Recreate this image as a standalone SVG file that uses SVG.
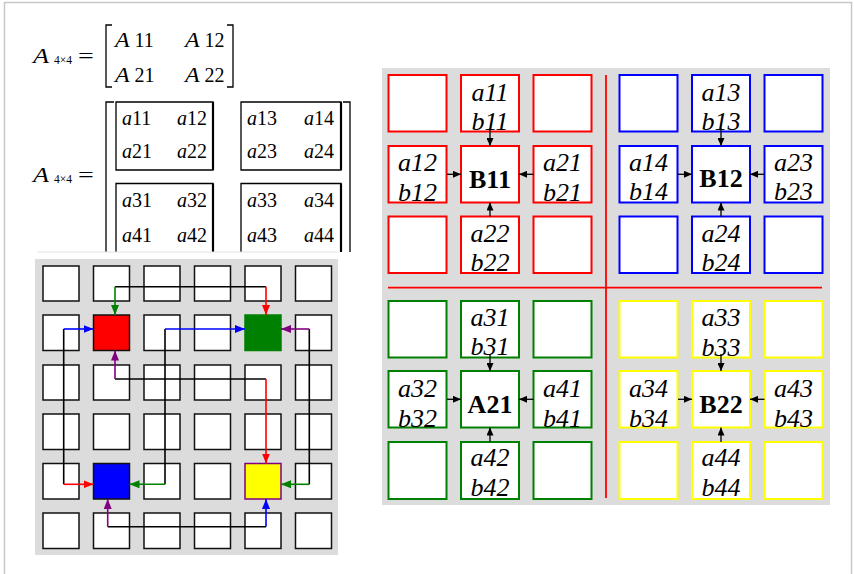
<svg xmlns="http://www.w3.org/2000/svg" width="854" height="574" viewBox="0 0 854 574">
<style>
.m{font-family:"Liberation Serif","Times New Roman",serif;font-size:20px;fill:#000}
.it{font-style:italic}
.sub{font-size:11.5px}
.br{fill:none;stroke:#000;stroke-width:1.3}
.sq{fill:#fff;stroke:#111;stroke-width:1.5}
.q{font-family:"Liberation Serif","Times New Roman",serif;font-size:26px;font-style:italic;text-anchor:middle;fill:#000}
.b{font-family:"Liberation Serif","Times New Roman",serif;font-size:26px;font-weight:bold;text-anchor:middle;fill:#000}
.r{fill:#fff;stroke:#f00;stroke-width:2}
.bl{fill:#fff;stroke:#00f;stroke-width:2}
.g{fill:#fff;stroke:#008000;stroke-width:2}
.y{fill:#fff;stroke:#ff0;stroke-width:2}
.c{fill:none;stroke-width:1.6}
</style>
<defs>
<marker id="mg" markerUnits="userSpaceOnUse" markerWidth="10" markerHeight="8" refX="10" refY="4" orient="auto"><path d="M0,0L10,4L0,8z" fill="#008000"/></marker>
<marker id="mr" markerUnits="userSpaceOnUse" markerWidth="10" markerHeight="8" refX="10" refY="4" orient="auto"><path d="M0,0L10,4L0,8z" fill="#f00"/></marker>
<marker id="mb" markerUnits="userSpaceOnUse" markerWidth="10" markerHeight="8" refX="10" refY="4" orient="auto"><path d="M0,0L10,4L0,8z" fill="#00f"/></marker>
<marker id="mp" markerUnits="userSpaceOnUse" markerWidth="10" markerHeight="8" refX="10" refY="4" orient="auto"><path d="M0,0L10,4L0,8z" fill="#800080"/></marker>
<marker id="mk" markerUnits="userSpaceOnUse" markerWidth="8" markerHeight="7" refX="8" refY="3.5" orient="auto"><path d="M0,0L8,3.5L0,7z" fill="#000"/></marker>
</defs>
<rect x="4.5" y="2.5" width="847" height="590" fill="#fff" stroke="#c8c8c8" stroke-width="1.5"/>

<!-- Matrix 1 -->
<g id="matrix1">
<text class="m it" transform="translate(33,63) scale(1.25,1)" style="font-size:21px">A</text>
<text class="m sub" x="54" y="64">4×4</text>
<text class="m" transform="translate(78,63) scale(1.4,1)">=</text>
<path class="br" d="M112,25H106V87H112M227,25H233V87H227"/>
<text class="m it" transform="translate(115,47) scale(1.2,1)">A</text><text class="m" x="134.5" y="47">11</text>
<text class="m it" transform="translate(185,47) scale(1.2,1)">A</text><text class="m" x="204.5" y="47">12</text>
<text class="m it" transform="translate(115,82) scale(1.2,1)">A</text><text class="m" x="134.5" y="82">21</text>
<text class="m it" transform="translate(185,82) scale(1.2,1)">A</text><text class="m" x="204.5" y="82">22</text>
</g>

<!-- Matrix 2 -->
<g id="matrix2">
<text class="m it" transform="translate(33,182) scale(1.25,1)" style="font-size:21px">A</text>
<text class="m sub" x="54" y="183">4×4</text>
<text class="m" transform="translate(78,182) scale(1.4,1)">=</text>
<path class="br" d="M114,102H106V252M343,102H350V252"/>
<path class="br" d="M116,102H213V170H116Z M241,102H341V170H241Z"/>
<path d="M213,102V170M341,102V170" stroke="#000" stroke-width="2.2" fill="none"/>
<path class="br" d="M116,252V183.5H213V252M241,252V183.5H341V252"/>
<path d="M213,183.5V252M341,183.5V252" stroke="#000" stroke-width="2.2" fill="none"/>
<line x1="37" y1="252" x2="338" y2="252" stroke="#e2e2e2" stroke-width="1"/>
<text class="m" x="122" y="125"><tspan class="it">a</tspan>11</text>
<text class="m" x="177" y="125"><tspan class="it">a</tspan>12</text>
<text class="m" x="122" y="158"><tspan class="it">a</tspan>21</text>
<text class="m" x="177" y="158"><tspan class="it">a</tspan>22</text>
<text class="m" x="247" y="125"><tspan class="it">a</tspan>13</text>
<text class="m" x="304" y="125"><tspan class="it">a</tspan>14</text>
<text class="m" x="247" y="158"><tspan class="it">a</tspan>23</text>
<text class="m" x="304" y="158"><tspan class="it">a</tspan>24</text>
<text class="m" x="122" y="207"><tspan class="it">a</tspan>31</text>
<text class="m" x="177" y="207"><tspan class="it">a</tspan>32</text>
<text class="m" x="122" y="242"><tspan class="it">a</tspan>41</text>
<text class="m" x="177" y="242"><tspan class="it">a</tspan>42</text>
<text class="m" x="247" y="207"><tspan class="it">a</tspan>33</text>
<text class="m" x="304" y="207"><tspan class="it">a</tspan>34</text>
<text class="m" x="247" y="242"><tspan class="it">a</tspan>43</text>
<text class="m" x="304" y="242"><tspan class="it">a</tspan>44</text>
</g>

<!-- Left grid -->
<rect x="35" y="259" width="303" height="296" fill="#dcdcdc"/>
<g id="grid-left">
<rect class="sq" x="43" y="266" width="36" height="35"/><rect class="sq" x="93.5" y="266" width="36" height="35"/><rect class="sq" x="144" y="266" width="36" height="35"/><rect class="sq" x="194.5" y="266" width="36" height="35"/><rect class="sq" x="245" y="266" width="36" height="35"/><rect class="sq" x="295.5" y="266" width="36" height="35"/>
<rect class="sq" x="43" y="315" width="36" height="35.5"/><rect class="sq" x="144" y="315" width="36" height="35.5"/><rect class="sq" x="194.5" y="315" width="36" height="35.5"/><rect class="sq" x="295.5" y="315" width="36" height="35.5"/>
<rect class="sq" x="43" y="365" width="36" height="35"/><rect class="sq" x="93.5" y="365" width="36" height="35"/><rect class="sq" x="144" y="365" width="36" height="35"/><rect class="sq" x="194.5" y="365" width="36" height="35"/><rect class="sq" x="245" y="365" width="36" height="35"/><rect class="sq" x="295.5" y="365" width="36" height="35"/>
<rect class="sq" x="43" y="414" width="36" height="35.5"/><rect class="sq" x="93.5" y="414" width="36" height="35.5"/><rect class="sq" x="144" y="414" width="36" height="35.5"/><rect class="sq" x="194.5" y="414" width="36" height="35.5"/><rect class="sq" x="245" y="414" width="36" height="35.5"/><rect class="sq" x="295.5" y="414" width="36" height="35.5"/>
<rect class="sq" x="43" y="463.5" width="36" height="35.5"/><rect class="sq" x="144" y="463.5" width="36" height="35.5"/><rect class="sq" x="194.5" y="463.5" width="36" height="35.5"/><rect class="sq" x="295.5" y="463.5" width="36" height="35.5"/>
<rect class="sq" x="43" y="513" width="36" height="35.5"/><rect class="sq" x="93.5" y="513" width="36" height="35.5"/><rect class="sq" x="144" y="513" width="36" height="35.5"/><rect class="sq" x="194.5" y="513" width="36" height="35.5"/><rect class="sq" x="245" y="513" width="36" height="35.5"/><rect class="sq" x="295.5" y="513" width="36" height="35.5"/>
</g>
<g id="red-node"><rect x="93.5" y="315" width="36" height="35.5" fill="#f00" stroke="#111" stroke-width="1.5"/></g>
<g id="green-node"><rect x="245" y="315" width="36" height="35.5" fill="#008000" stroke="#008000" stroke-width="1.5"/></g>
<g id="blue-node"><rect x="93.5" y="463.5" width="36" height="35.5" fill="#00f" stroke="#111" stroke-width="1.5"/></g>
<g id="yellow-node"><rect x="245" y="463.5" width="36" height="35.5" fill="#ff0" stroke="#800080" stroke-width="1.5"/></g>

<g id="connectors-left">
<path d="M115,286.7H266" stroke="#000" class="c"/>
<path d="M115,286.7V315" stroke="#008000" class="c" marker-end="url(#mg)"/>
<path d="M266,286.7V315" stroke="#f00" class="c" marker-end="url(#mr)"/>
<path d="M63.7,329V484.3" stroke="#000" class="c"/>
<path d="M63.7,329H93.5" stroke="#00f" class="c" marker-end="url(#mb)"/>
<path d="M63.7,484.3H93.5" stroke="#f00" class="c" marker-end="url(#mr)"/>
<path d="M165,329V484.3" stroke="#000" class="c"/>
<path d="M165,329H245" stroke="#00f" class="c" marker-end="url(#mb)"/>
<path d="M165,484.3H129.5" stroke="#008000" class="c" marker-end="url(#mg)"/>
<path d="M309.3,329V484.3" stroke="#000" class="c"/>
<path d="M309.3,329H281" stroke="#800080" class="c" marker-end="url(#mp)"/>
<path d="M309.3,484.3H281" stroke="#008000" class="c" marker-end="url(#mg)"/>
<path d="M115,379H266" stroke="#000" class="c"/>
<path d="M115,379V350.5" stroke="#800080" class="c" marker-end="url(#mp)"/>
<path d="M266,379V463.5" stroke="#f00" class="c" marker-end="url(#mr)"/>
<path d="M107.7,526.7H266" stroke="#000" class="c"/>
<path d="M107.7,526.7V499" stroke="#800080" class="c" marker-end="url(#mp)"/>
<path d="M266,526.7V499" stroke="#00f" class="c" marker-end="url(#mb)"/>
</g>

<!-- Right grid -->
<rect x="382" y="68" width="448" height="437" fill="#dcdcdc"/>
<g id="dividers" stroke="#f00" stroke-width="1.8">
<line x1="606" y1="75" x2="606" y2="498"/>
<line x1="388" y1="287.7" x2="822" y2="287.7"/>
</g>

<g id="quad-B11">
<rect class="r" x="388.5" y="75" width="58" height="56.5"/>
<rect class="r" x="461" y="75" width="58" height="56.5"/>
<rect class="r" x="533.5" y="75" width="58" height="56.5"/>
<rect class="r" x="388.5" y="146" width="58" height="56.5"/>
<rect class="r" x="461" y="146" width="58" height="56.5"/>
<rect class="r" x="533.5" y="146" width="58" height="56.5"/>
<rect class="r" x="388.5" y="216.5" width="58" height="56.5"/>
<rect class="r" x="461" y="216.5" width="58" height="56.5"/>
<rect class="r" x="533.5" y="216.5" width="58" height="56.5"/>
<text class="q" x="490" y="101">a11</text><text class="q" x="490" y="130">b11</text>
<text class="q" x="417.5" y="171">a12</text><text class="q" x="417.5" y="200.5">b12</text>
<text class="q" x="562.5" y="171">a21</text><text class="q" x="562.5" y="200.5">b21</text>
<text class="q" x="490" y="241.5">a22</text><text class="q" x="490" y="271">b22</text>
<text class="b" x="490" y="187.5">B11</text>
</g>
<g id="quad-B12">
<rect class="bl" x="619.5" y="75" width="58" height="56.5"/>
<rect class="bl" x="692" y="75" width="58" height="56.5"/>
<rect class="bl" x="764.5" y="75" width="58" height="56.5"/>
<rect class="bl" x="619.5" y="146" width="58" height="56.5"/>
<rect class="bl" x="692" y="146" width="58" height="56.5"/>
<rect class="bl" x="764.5" y="146" width="58" height="56.5"/>
<rect class="bl" x="619.5" y="216.5" width="58" height="56.5"/>
<rect class="bl" x="692" y="216.5" width="58" height="56.5"/>
<rect class="bl" x="764.5" y="216.5" width="58" height="56.5"/>
<text class="q" x="721" y="101">a13</text><text class="q" x="721" y="130">b13</text>
<text class="q" x="648.5" y="170.5">a14</text><text class="q" x="648.5" y="200">b14</text>
<text class="q" x="793.5" y="170.5">a23</text><text class="q" x="793.5" y="200">b23</text>
<text class="q" x="721" y="241.5">a24</text><text class="q" x="721" y="271">b24</text>
<text class="b" x="721" y="187">B12</text>
</g>
<g id="quad-A21">
<rect class="g" x="388.5" y="301" width="58" height="56.5"/>
<rect class="g" x="461" y="301" width="58" height="56.5"/>
<rect class="g" x="533.5" y="301" width="58" height="56.5"/>
<rect class="g" x="388.5" y="371" width="58" height="56.5"/>
<rect class="g" x="461" y="371" width="58" height="56.5"/>
<rect class="g" x="533.5" y="371" width="58" height="56.5"/>
<rect class="g" x="388.5" y="442" width="58" height="57"/>
<rect class="g" x="461" y="442" width="58" height="57"/>
<rect class="g" x="533.5" y="442" width="58" height="57"/>
<text class="q" x="490" y="325.5">a31</text><text class="q" x="490" y="355">b31</text>
<text class="q" x="417.5" y="397">a32</text><text class="q" x="417.5" y="427">b32</text>
<text class="q" x="562.5" y="397">a41</text><text class="q" x="562.5" y="427">b41</text>
<text class="q" x="490" y="466">a42</text><text class="q" x="490" y="496">b42</text>
<text class="b" x="490" y="413">A21</text>
</g>
<g id="quad-B22">
<rect class="y" x="619.5" y="301" width="58" height="56.5"/>
<rect class="y" x="692" y="301" width="58" height="56.5"/>
<rect class="y" x="764.5" y="301" width="58" height="56.5"/>
<rect class="y" x="619.5" y="371" width="58" height="56.5"/>
<rect class="y" x="692" y="371" width="58" height="56.5"/>
<rect class="y" x="764.5" y="371" width="58" height="56.5"/>
<rect class="y" x="619.5" y="442" width="58" height="57"/>
<rect class="y" x="692" y="442" width="58" height="57"/>
<rect class="y" x="764.5" y="442" width="58" height="57"/>
<text class="q" x="721" y="326">a33</text><text class="q" x="721" y="355.5">b33</text>
<text class="q" x="648.5" y="397">a34</text><text class="q" x="648.5" y="426.5">b34</text>
<text class="q" x="793.5" y="397">a43</text><text class="q" x="793.5" y="426.5">b43</text>
<text class="q" x="721" y="465.5">a44</text><text class="q" x="721" y="496">b44</text>
<text class="b" x="721" y="413">B22</text>
</g>

<g id="connectors-right" stroke="#000" stroke-width="1.3" fill="none">
<path d="M490,128V146" marker-end="url(#mk)"/><path d="M447,174.3H461" marker-end="url(#mk)"/><path d="M533.5,174.3H519" marker-end="url(#mk)"/><path d="M490,216.5V202.5" marker-end="url(#mk)"/>
<path d="M721,128V146" marker-end="url(#mk)"/><path d="M678,174.3H692" marker-end="url(#mk)"/><path d="M764.5,174.3H750" marker-end="url(#mk)"/><path d="M721,216.5V202.5" marker-end="url(#mk)"/>
<path d="M490,354V371" marker-end="url(#mk)"/><path d="M447,399.3H461" marker-end="url(#mk)"/><path d="M533.5,399.3H519" marker-end="url(#mk)"/><path d="M490,442V427.5" marker-end="url(#mk)"/>
<path d="M721,354V371" marker-end="url(#mk)"/><path d="M678,399.3H692" marker-end="url(#mk)"/><path d="M764.5,399.3H750" marker-end="url(#mk)"/><path d="M721,442V427.5" marker-end="url(#mk)"/>
</g>
</svg>
